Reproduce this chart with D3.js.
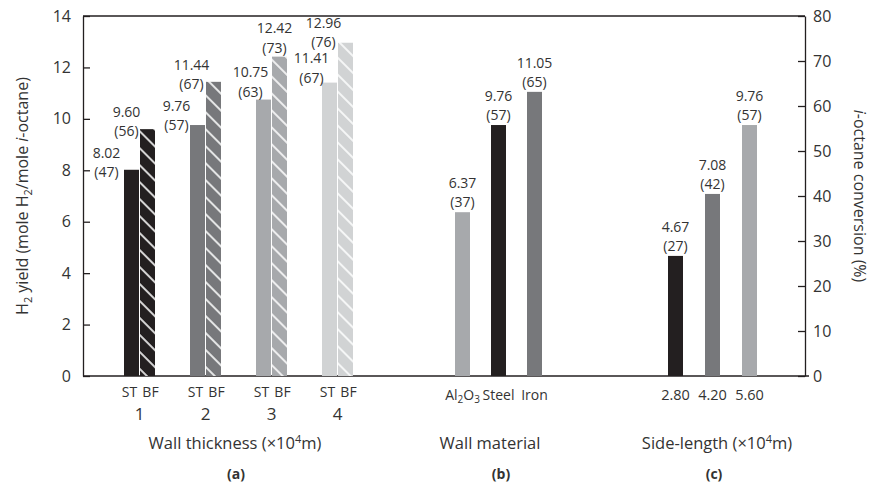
<!DOCTYPE html>
<html>
<head>
<meta charset="utf-8">
<script src="https://cdn.jsdelivr.net/npm/d3@7"></script>
<style>
  html, body { margin: 0; padding: 0; background: #fff; }
  svg { display: block; font-family: "Open Sans", "Noto Sans", sans-serif; }
  text { fill: #333; }
</style>
</head>
<body>
<svg id="chart" width="882" height="486"></svg>
<script>
// Panel (a): wall thickness, straight (ST) and baffled (BF) channels
const thicknessGroups = ["1", "2", "3", "4"];
const stYield = [8.02, 9.76, 10.75, 11.41];
const stConv = [47, 57, 63, 67];
const bfYield = [9.60, 11.44, 12.42, 12.96];
const bfConv = [56, 67, 73, 76];

// Panel (b): wall material
const materials = ["Al2O3", "Steel", "Iron"];
const materialYield = [6.37, 9.76, 11.05];
const materialConv = [37, 57, 65];

// Panel (c): channel side-length
const sideLengths = ["2.80", "4.20", "5.60"];
const sideYield = [4.67, 7.08, 9.76];
const sideConv = [27, 42, 57];

// Axis ticks
const yieldTicks = [0, 2, 4, 6, 8, 10, 12, 14];
const convTicks = [0, 10, 20, 30, 40, 50, 60, 70, 80];

// ---- layout ----
const plot = { left: 83, right: 805, top: 16, bottom: 376 };
const barW = 15;
const ink = "#231f20";
const shades = ["#231f20", "#77787b", "#a7a9ac", "#d1d3d4"];
const materialShade = [2, 0, 1];
const sideShade = [0, 1, 2];
const catSize = 14;
const labelSize = 14;
const labelGap = 19.2;
// label offsets (dx from bar centre, dy of the bottom line from bar top) for panel (a)
const stLabelShift = [[-25, 7], [-21, 5], [-13, -3], [-18, 0]];
const bfLabelShift = [[-21, 7], [-22, 7], [-5, -4], [-22, 4]];

const svg = d3.select("#chart");

const y = d3.scaleLinear().domain([0, 14]).range([plot.bottom, plot.top]);
const y2 = d3.scaleLinear().domain([0, 80]).range([plot.bottom, plot.top]);

const xA = d3.scaleBand().domain(thicknessGroups).range([106.5, 370.5]);
const xPair = d3.scaleBand().domain(["ST", "BF"]).range([-15.5, 15.5]).paddingInner(1 / 16);
const xB = d3.scaleBand().domain(materials).range([444.5, 552.5]);
const xC = d3.scaleBand().domain(sideLengths).range([657, 768]);

// hatch patterns for the baffled bars
const defs = svg.append("defs");
shades.forEach((c, i) => {
  const p = defs.append("pattern")
    .attr("id", "hatch" + i)
    .attr("patternUnits", "userSpaceOnUse")
    .attr("width", 12).attr("height", 12)
    .attr("patternTransform", "rotate(45)");
  p.append("rect").attr("width", 12).attr("height", 12).attr("fill", c);
  p.append("line").attr("x1", -1).attr("x2", 13).attr("y1", 6).attr("y2", 6)
    .attr("stroke", "#fff").attr("stroke-width", 1.6);
});

// ---- axes ----
const leftAxis = d3.axisLeft(y).tickValues(yieldTicks).tickSizeInner(-7).tickSizeOuter(0).tickPadding(12);
const rightAxis = d3.axisRight(y2).tickValues(convTicks).tickSizeInner(-7).tickSizeOuter(0).tickPadding(8);

const gl = svg.append("g").attr("transform", `translate(${plot.left},0)`).call(leftAxis);
const gr = svg.append("g").attr("transform", `translate(${plot.right},0)`).call(rightAxis);
[gl, gr].forEach(g => {
  g.selectAll("path.domain").attr("stroke", ink).attr("stroke-width", 1.3);
  g.selectAll(".tick line").attr("stroke", ink).attr("stroke-width", 1.3);
  g.selectAll(".tick text").attr("font-size", 16).attr("fill", "#333")
    .attr("font-family", "Open Sans, Noto Sans, sans-serif");
});

// frame lines (top and baseline)
svg.append("line").attr("x1", plot.left).attr("x2", plot.right)
  .attr("y1", y(14)).attr("y2", y(14)).attr("stroke", ink).attr("stroke-width", 1.3);
svg.append("line").attr("x1", plot.left).attr("x2", plot.right + 4)
  .attr("y1", y(0)).attr("y2", y(0)).attr("stroke", ink).attr("stroke-width", 1.3);

// ---- bars ----
const bars = svg.append("g");
const labels = svg.append("g").attr("font-size", labelSize).attr("text-anchor", "middle");

function twoLineLabel(cx, baseY, val, conv) {
  labels.append("text").attr("x", cx).attr("y", baseY - labelGap).text(val.toFixed(2));
  labels.append("text").attr("x", cx).attr("y", baseY).text(`(${conv})`);
}

thicknessGroups.forEach((g, i) => {
  const cx = xA(g) + xA.bandwidth() / 2;
  // straight channel
  const xs = cx + xPair("ST");
  bars.append("rect").attr("x", xs).attr("width", xPair.bandwidth())
    .attr("y", y(stYield[i])).attr("height", y(0) - y(stYield[i]))
    .attr("fill", shades[i]);
  // baffled channel
  const xf = cx + xPair("BF");
  bars.append("rect").attr("x", xf).attr("width", xPair.bandwidth())
    .attr("y", y(bfYield[i])).attr("height", y(0) - y(bfYield[i]))
    .attr("fill", `url(#hatch${i})`);

  twoLineLabel(xs + barW / 2 + stLabelShift[i][0], y(stYield[i]) + stLabelShift[i][1], stYield[i], stConv[i]);
  twoLineLabel(xf + barW / 2 + bfLabelShift[i][0], y(bfYield[i]) + bfLabelShift[i][1], bfYield[i], bfConv[i]);

  // category labels
  svg.append("text").attr("x", cx - 10).attr("y", 397).attr("font-size", catSize)
    .attr("text-anchor", "middle").text("ST");
  svg.append("text").attr("x", cx + 11).attr("y", 397).attr("font-size", catSize)
    .attr("text-anchor", "middle").text("BF");
  svg.append("text").attr("x", cx).attr("y", 420).attr("font-size", 17)
    .attr("text-anchor", "middle").text(g);
});

function singlePanel(scale, cats, vals, convs, shadeIdx) {
  cats.forEach((c, i) => {
    const cx = scale(c) + scale.bandwidth() / 2;
    bars.append("rect").attr("x", cx - barW / 2).attr("width", barW)
      .attr("y", y(vals[i])).attr("height", y(0) - y(vals[i]))
      .attr("fill", shades[shadeIdx[i]]);
    twoLineLabel(cx, y(vals[i]) - 5, vals[i], convs[i]);
  });
}
singlePanel(xB, materials, materialYield, materialConv, materialShade);
singlePanel(xC, sideLengths, sideYield, sideConv, sideShade);

// category labels for panels (b) and (c)
materials.forEach(m => {
  const cx = xB(m) + xB.bandwidth() / 2;
  const t = svg.append("text").attr("x", cx).attr("y", 400).attr("font-size", catSize)
    .attr("text-anchor", "middle");
  if (m === "Al2O3") {
    t.append("tspan").text("Al");
    t.append("tspan").attr("font-size", 10).attr("dy", 3).text("2");
    t.append("tspan").attr("dy", -3).text("O");
    t.append("tspan").attr("font-size", 10).attr("dy", 3).text("3");
  } else {
    t.text(m);
  }
});
sideLengths.forEach(s => {
  const cx = xC(s) + xC.bandwidth() / 2;
  svg.append("text").attr("x", cx).attr("y", 400).attr("font-size", catSize + 0.5)
    .attr("text-anchor", "middle").text(s);
});

// panel titles
function unitTitle(x, label) {
  const t = svg.append("text").attr("x", x).attr("y", 449).attr("font-size", 16.5)
    .attr("text-anchor", "middle");
  t.append("tspan").text(label + " (×10");
  t.append("tspan").attr("font-size", 11).attr("dy", -6).text("4");
  t.append("tspan").attr("dy", 6).text("m)");
}
unitTitle(235, "Wall thickness");
svg.append("text").attr("x", 490).attr("y", 449).attr("font-size", 16.5)
  .attr("text-anchor", "middle").text("Wall material");
unitTitle(717, "Side-length");

[["(a)", 236], ["(b)", 501], ["(c)", 714]].forEach(([s, x]) => {
  svg.append("text").attr("x", x).attr("y", 479).attr("font-size", 14)
    .attr("font-weight", "bold").attr("text-anchor", "middle").text(s);
});

// axis titles
const lt = svg.append("text").attr("transform", `translate(28,${(plot.top + plot.bottom) / 2}) rotate(-90)`)
  .attr("font-size", 16).attr("text-anchor", "middle");
lt.append("tspan").text("H");
lt.append("tspan").attr("font-size", 11).attr("dy", 4).text("2");
lt.append("tspan").attr("dy", -4).text(" yield (mole H");
lt.append("tspan").attr("font-size", 11).attr("dy", 4).text("2");
lt.append("tspan").attr("dy", -4).text("/mole ");
lt.append("tspan").attr("font-style", "italic").text("i");
lt.append("tspan").text("-octane)");

const rt = svg.append("text").attr("transform", `translate(854,${(plot.top + plot.bottom) / 2}) rotate(90)`)
  .attr("font-size", 16).attr("text-anchor", "middle");
rt.append("tspan").attr("font-style", "italic").text("i");
rt.append("tspan").text("-octane conversion (%)");
</script>
</body>
</html>
